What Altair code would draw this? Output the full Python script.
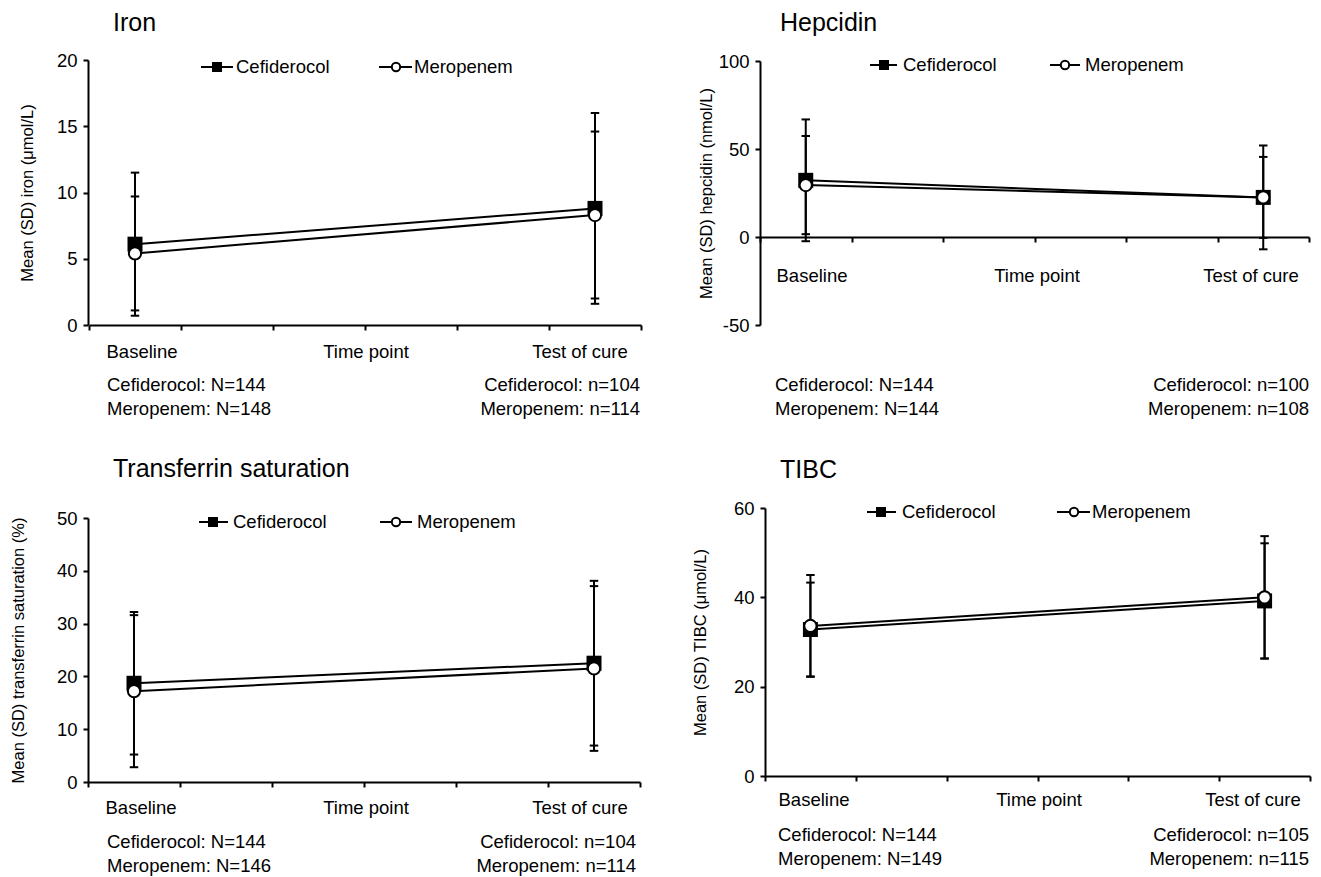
import altair as alt
import pandas as pd

FONT = "Liberation Sans"

# ---------------- data ----------------
timepoints = ["Baseline", "Test of cure"]
drugs = ["Cefiderocol", "Meropenem"]

iron_cef_mean = [6.1, 8.8]
iron_cef_sd = [5.4, 7.2]
iron_mer_mean = [5.4, 8.3]
iron_mer_sd = [4.3, 6.3]

hep_cef_mean = [32.2, 22.5]
hep_cef_sd = [34.6, 29.5]
hep_mer_mean = [29.5, 22.5]
hep_mer_sd = [27.9, 23.0]

tsat_cef_mean = [18.7, 22.5]
tsat_cef_sd = [13.5, 15.6]
tsat_mer_mean = [17.2, 21.5]
tsat_mer_sd = [14.4, 15.6]

tibc_cef_mean = [32.8, 39.2]
tibc_cef_sd = [10.5, 12.9]
tibc_mer_mean = [33.6, 40.0]
tibc_mer_sd = [11.4, 13.7]

iron_n_base = ["Cefiderocol: N=144", "Meropenem: N=148"]
iron_n_toc = ["Cefiderocol: n=104", "Meropenem: n=114"]
hep_n_base = ["Cefiderocol: N=144", "Meropenem: N=144"]
hep_n_toc = ["Cefiderocol: n=100", "Meropenem: n=108"]
tsat_n_base = ["Cefiderocol: N=144", "Meropenem: N=146"]
tsat_n_toc = ["Cefiderocol: n=104", "Meropenem: n=114"]
tibc_n_base = ["Cefiderocol: N=144", "Meropenem: N=149"]
tibc_n_toc = ["Cefiderocol: n=105", "Meropenem: n=115"]

axis_labels = ["Baseline", "Time point", "Test of cure"]

# category axis with six equal slots; the two time points sit in the first and last slot
SLOT = {"Baseline": 0.5, "Test of cure": 5.5}


def panel_df(cm, cs, mm, ms):
    rows = []
    for drug, means, sds in [("Cefiderocol", cm, cs), ("Meropenem", mm, ms)]:
        for tp, m, s in zip(timepoints, means, sds):
            rows.append(dict(drug=drug, tp=tp, x=SLOT[tp], mean=m, lo=m - s, hi=m + s))
    return pd.DataFrame(rows)


one = pd.DataFrame({"k": [0]})


def txt(s, x, y, size=18.5, align="left", baseline="middle"):
    return alt.Chart(one).mark_text(
        text=s, font=FONT, fontSize=size, align=align, baseline=baseline, color="black"
    ).encode(x=alt.value(x), y=alt.value(y))


def make_panel(df, P):
    xscale = alt.Scale(domain=[0, 6], range=P["xrange"], nice=False, zero=False)
    yscale = alt.Scale(domain=P["ydomain"], range=P["yrange"], nice=False, zero=False)
    xaxis = alt.Axis(values=[0, 1, 2, 3, 4, 5, 6], labels=False, title=None, tickSize=5,
                     tickWidth=2, domainWidth=2, grid=False, offset=P.get("xoffset", 0))
    yaxis = alt.Axis(values=P["yticks"], title=P["ytitle"], titleX=P["ytitle_x"],
                     titleY=(P["yrange"][0] + P["yrange"][1]) / 2, titleAngle=270,
                     titleAlign="center", titleBaseline="middle", titleFontSize=16.5,
                     titleFontWeight="normal", labelFontSize=18.5, labelPadding=6,
                     labelExpr="'' + datum.value", tickSize=5, tickWidth=2,
                     domainWidth=2, grid=False)

    def X():
        return alt.X("x:Q", scale=xscale, axis=xaxis)

    def Y(f):
        return alt.Y(f + ":Q", scale=yscale, axis=yaxis)

    base = alt.Chart(df)
    lines = base.mark_line(color="black", strokeWidth=2).encode(x=X(), y=Y("mean"), detail="drug:N")
    bars = base.mark_rule(color="black", strokeWidth=2).encode(x=X(), y=Y("lo"), y2="hi:Q")
    cap = dict(shape="M-1,0H1", size=72, filled=False, stroke="black", strokeWidth=2, opacity=1)
    caps_lo = base.mark_point(**cap).encode(x=X(), y=Y("lo"))
    caps_hi = base.mark_point(**cap).encode(x=X(), y=Y("hi"))
    cef = alt.Chart(df[df.drug == "Cefiderocol"]).mark_point(
        shape="square", filled=True, color="black", size=225, opacity=1
    ).encode(x=X(), y=Y("mean"))
    mer = alt.Chart(df[df.drug == "Meropenem"]).mark_point(
        shape="circle", filled=True, fill="white", stroke="black", strokeWidth=2, size=150, opacity=1
    ).encode(x=X(), y=Y("mean"))

    layers = [lines, bars, caps_lo, caps_hi, cef, mer]

    # title
    layers.append(txt(P["title"], P["title_xy"][0], P["title_xy"][1], size=25, baseline="alphabetic"))

    # legend
    L = P["legend"]
    ly = L["y"]
    layers.append(alt.Chart(one).mark_rule(color="black", strokeWidth=2).encode(
        x=alt.value(L["cef_line"][0]), x2=alt.value(L["cef_line"][1]), y=alt.value(ly)))
    layers.append(alt.Chart(one).mark_point(shape="square", filled=True, color="black", size=100, opacity=1).encode(
        x=alt.value(L["cef_mark"]), y=alt.value(ly)))
    layers.append(txt(drugs[0], L["cef_text"], ly))
    layers.append(alt.Chart(one).mark_rule(color="black", strokeWidth=2).encode(
        x=alt.value(L["mer_line"][0]), x2=alt.value(L["mer_line"][1]), y=alt.value(ly)))
    layers.append(alt.Chart(one).mark_point(shape="circle", filled=True, fill="white", stroke="black",
                                            strokeWidth=2, size=70, opacity=1).encode(
        x=alt.value(L["mer_mark"]), y=alt.value(ly)))
    layers.append(txt(drugs[1], L["mer_text"], ly))

    # category labels
    for lab, cx in zip(axis_labels, P["cat_x"]):
        layers.append(txt(lab, cx, P["cat_y"], align="center"))

    # N labels
    nb, nt = P["n_base"], P["n_toc"]
    for i in range(2):
        layers.append(txt(nb[i], P["n_left_x"], P["n_y"][i]))
        layers.append(txt(nt[i], P["n_right_x"], P["n_y"][i], align="right"))

    # invisible layout guides
    for g in P.get("guides", []):
        layers.append(alt.Chart(one).mark_rule(opacity=0, strokeWidth=1, color="white").encode(
            x=alt.value(g[0]), y=alt.value(g[1]), y2=alt.value(g[2])))

    return alt.layer(*layers).properties(width=P["width"], height=P["height"])


P1 = dict(width=553, height=265, xrange=[1, 553], yrange=[265, 0], ydomain=[0, 20],
          yticks=[0, 5, 10, 15, 20], ytitle="Mean (SD) iron (μmol/L)", ytitle_x=-61,
          title="Iron", title_xy=(25, -29),
          legend=dict(y=7, cef_line=(113, 145), cef_mark=129, cef_text=148,
                      mer_line=(291, 324), mer_mark=308, mer_text=326),
          cat_x=[54, 278, 492], cat_y=292, n_base=iron_n_base, n_toc=iron_n_toc,
          n_left_x=19, n_right_x=552, n_y=[325, 349],
          guides=[(-80, -52, -40)])

P2 = dict(width=549, height=265, xrange=[0, 549], yrange=[265, 1], ydomain=[-50, 100],
          yticks=[-50, 0, 50, 100], ytitle="Mean (SD) hepcidin (nmol/L)", ytitle_x=-54,
          xoffset=-88, title="Hepcidin", title_xy=(20, -29),
          legend=dict(y=5, cef_line=(110, 137), cef_mark=124, cef_text=143,
                      mer_line=(290, 320), mer_mark=305, mer_text=325),
          cat_x=[52, 277, 491], cat_y=216, n_base=hep_n_base, n_toc=hep_n_toc,
          n_left_x=15, n_right_x=549, n_y=[325, 349],
          guides=[(552, 0, 10)])

P3 = dict(width=552, height=274, xrange=[0, 552], yrange=[274, 10], ydomain=[0, 50],
          yticks=[0, 10, 20, 30, 40, 50], ytitle="Mean (SD) transferrin saturation (%)", ytitle_x=-70,
          title="Transferrin saturation", title_xy=(25, -31),
          legend=dict(y=14, cef_line=(111, 140), cef_mark=125, cef_text=145,
                      mer_line=(292, 324), mer_mark=308, mer_text=329),
          cat_x=[53, 278, 492], cat_y=300, n_base=tsat_n_base, n_toc=tsat_n_toc,
          n_left_x=19, n_right_x=548, n_y=[334, 358],
          guides=[(0, 355, 367)])

P4 = dict(width=545, height=268, xrange=[0, 545], yrange=[268, 0], ydomain=[0, 60],
          yticks=[0, 20, 40, 60], ytitle="Mean (SD) TIBC (μmol/L)", ytitle_x=-65,
          title="TIBC", title_xy=(15, -30),
          legend=dict(y=4, cef_line=(102, 131), cef_mark=116, cef_text=137,
                      mer_line=(292, 325), mer_mark=309, mer_text=327),
          cat_x=[49, 274, 488], cat_y=292, n_base=tibc_n_base, n_toc=tibc_n_toc,
          n_left_x=13, n_right_x=544, n_y=[327, 351])

p1 = make_panel(panel_df(iron_cef_mean, iron_cef_sd, iron_mer_mean, iron_mer_sd), P1)
p2 = make_panel(panel_df(hep_cef_mean, hep_cef_sd, hep_mer_mean, hep_mer_sd), P2)
p3 = make_panel(panel_df(tsat_cef_mean, tsat_cef_sd, tsat_mer_mean, tsat_mer_sd), P3)
p4 = make_panel(panel_df(tibc_cef_mean, tibc_cef_sd, tibc_mer_mean, tibc_mer_sd), P4)

row1 = alt.hconcat(p1, p2, spacing=119, bounds="flush")
row2 = alt.hconcat(p3, p4, spacing=125, bounds="flush")

# with flush bounds the nested rows count as zero-height, so the spacing is the row offset
chart = alt.vconcat(row1, row2, spacing=448, bounds="flush").properties(
    padding=0, background="white"
).configure_view(stroke=None).configure_axis(
    labelFont=FONT, titleFont=FONT, labelColor="black", titleColor="black",
    domainColor="black", tickColor="black", grid=False
)

chart.save("out.html", embed_options={"renderer": "svg", "actions": False})
